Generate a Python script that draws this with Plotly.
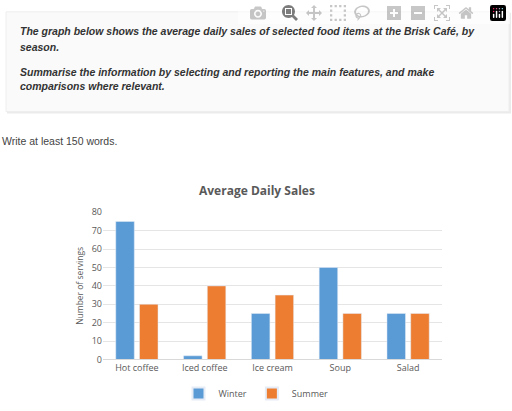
import plotly.graph_objects as go

categories = ["Hot coffee", "Iced coffee", "Ice cream", "Soup", "Salad"]
winter = [75, 2, 25, 50, 25]
summer = [30, 40, 35, 25, 25]
yticks = [0, 10, 20, 30, 40, 50, 60, 70, 80]

W, H = 512, 411
def py(p): return 1 - p / H
def px(p): return p / W

fig = go.Figure()
fig.add_bar(x=categories, y=winter, name="Winter", marker_color="#5B9BD5")
fig.add_bar(x=categories, y=summer, name="Summer", marker_color="#ED7D31")

fig.update_layout(
    width=W, height=H, margin=dict(l=0, r=0, t=0, b=0),
    paper_bgcolor="white", plot_bgcolor="white",
    barmode="group", bargap=0.3, bargroupgap=0.22,
    font=dict(family="Open Sans, Arial", color="#595959", size=9),
    xaxis=dict(domain=[px(103), px(442)], showline=True, linecolor="#D9D9D9",
               ticks="", tickfont=dict(size=9, color="#595959")),
    yaxis=dict(domain=[py(364), py(212)], range=[0, 80], tickvals=yticks,
               gridcolor="#E5E5E5", zeroline=False, ticks="",
               tickfont=dict(size=9, color="#595959"),
               title=dict(text="Number of servings", font=dict(size=8.5, color="#595959"), standoff=6)),
    legend=dict(orientation="h", x=0.5, xanchor="center", y=py(399), yanchor="middle",
                font=dict(size=9, color="#595959"), itemwidth=30, itemsizing="constant",
                tracegroupgap=0),
    showlegend=True,
)
fig.add_annotation(text="<b>Average Daily Sales</b>", xref="paper", yref="paper",
                   x=px(257), y=py(190), showarrow=False,
                   font=dict(size=12, color="#595959", family="Open Sans, Arial"))

fig.add_shape(type="rect", xref="paper", yref="paper", x0=px(7), x1=px(511), y0=py(110), y1=py(6),
              fillcolor="rgba(0,0,0,0.08)", line_width=0, layer="below")
fig.add_shape(type="rect", xref="paper", yref="paper", x0=px(6), x1=px(509), y0=py(108), y1=py(5),
              fillcolor="#FAFAFA", line=dict(color="#EEEEEE", width=1), layer="below")
lines = [
    ("The graph below shows the average daily sales of selected food items at the Brisk Café, by", 25),
    ("season.", 41),
    ("Summarise the information by selecting and reporting the main features, and make", 67),
    ("comparisons where relevant.", 82),
]
for t, y in lines:
    fig.add_annotation(text=f"<b><i>{t}</i></b>", xref="paper", yref="paper", x=px(18), y=py(y),
                       xanchor="left", yanchor="middle", showarrow=False,
                       font=dict(size=10.5, color="#333333", family="Liberation Sans, Arial"))
fig.add_annotation(text="Write at least 150 words.", xref="paper", yref="paper", x=0, y=py(138),
                   xanchor="left", yanchor="middle", showarrow=False,
                   font=dict(size=10.5, color="#444444", family="Liberation Sans, Arial"))

fig.write_html("out.html", post_script="document.body.style.margin='0';document.body.style.padding='0';")
